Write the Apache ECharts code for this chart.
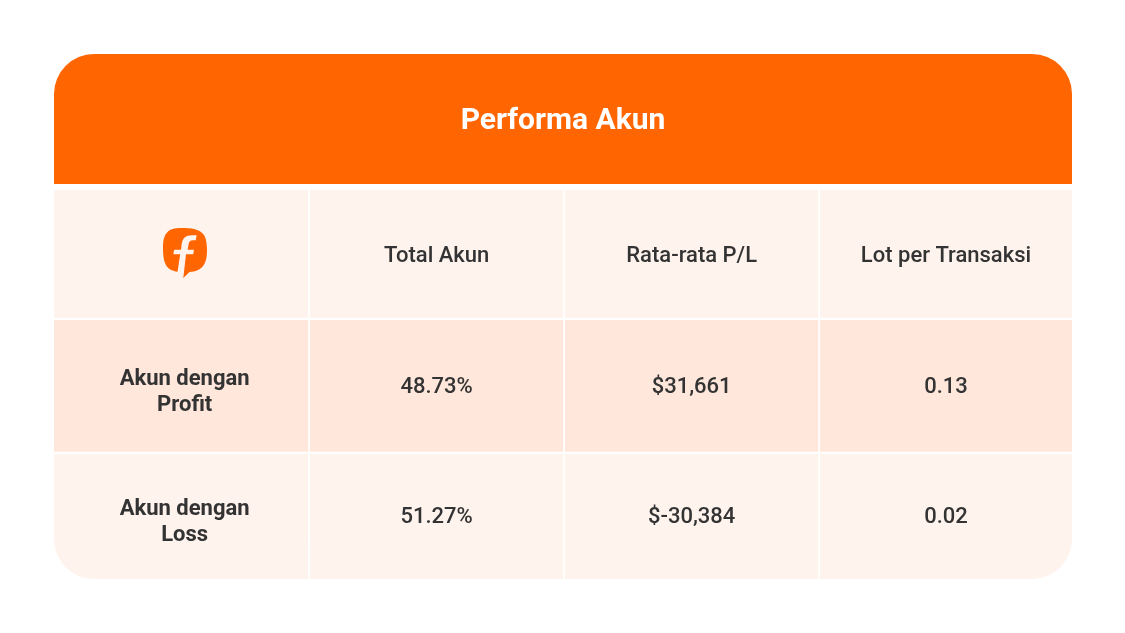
<!DOCTYPE html>
<html><head><meta charset="utf-8">
<style>html,body{margin:0;padding:0;background:#fff}#c{width:1125px;height:633px}</style>
<script src="https://cdn.jsdelivr.net/npm/echarts@6/dist/echarts.min.js"></script>
</head><body><div id="c"></div>
<script>
const chartTitle = 'Performa Akun';
const columnHeaders = ['', 'Total Akun', 'Rata-rata P/L', 'Lot per Transaksi'];
const profitRow = ['Akun dengan\nProfit', '48.73%', '$31,661', '0.13'];
const lossRow = ['Akun dengan\nLoss', '51.27%', '$-30,384', '0.02'];

const colEdges = [[54,308.3],[310,563.3],[565,818.3],[820,1072]];
const rowEdges = [[190,318],[320,451.7],[453.7,579]];
const labelY = [256,392,522];
const valueY = [256,387.5,517];
const rowFill = ['#FFF3EE','#FFE7DB','#FFF3EE'];
const ORANGE = '#FF6500', INK = '#333333', FONT = 'Roboto';
const LOGO_BUBBLE = 'M181 228 C168 228 163 233 163 248 C163 265 167 271 180 272 L183.3 278 L189.5 272 C202 271 207 265 207 250 C207 233 202 228 181 228 Z';
const LOGO_F = 'M183.3 278 L186 254.3 L193.2 254.3 L194 249.7 L187.6 249.7 L188.6 244 C189.2 241.3 190.5 240.3 193 240.3 L195.7 240.3 L196.7 235.3 L192 235.3 C185.5 235.3 182.5 238.5 181.7 244 L181 249.7 L174.2 249.7 L173.3 254.3 L180.2 254.3 L177.5 272 Z';

const cells = [];
[columnHeaders, profitRow, lossRow].forEach((row, r) =>
  row.forEach((text, c) => cells.push([c, r, text])));

function renderCell(params, api) {
  const c = api.value(0), r = api.value(1), text = cells[params.dataIndex][2];
  const [x0, x1] = colEdges[c], [y0, y1] = rowEdges[r];
  const lastRow = r === 2;
  const radius = lastRow && c === 0 ? [0,0,0,40] : lastRow && c === 3 ? [0,0,40,0] : 0;
  const bold = c === 0 && r > 0;
  const children = [{
    type: 'rect', shape: {x:x0, y:y0, width:x1-x0, height:y1-y0, r:radius},
    style: {fill: rowFill[r]}
  }];
  if (text) children.push({
    type: 'text',
    style: {
      x: (x0+x1)/2 + (c===0 ? 3.5 : 0), y: c===0 ? labelY[r] : valueY[r],
      text, align:'center', verticalAlign:'middle',
      font: (bold ? '700 ' : '500 ') + '22px ' + FONT,
      lineHeight: 26, fill: INK
    }
  });
  else children.push(
    {type:'path', shape:{pathData:LOGO_BUBBLE}, style:{fill:ORANGE}},
    {type:'path', shape:{pathData:LOGO_F}, style:{fill:rowFill[0]}}
  );
  return {type:'group', children};
}

const chart = echarts.init(document.getElementById('c'), null, {renderer:'canvas'});
chart.setOption({
  animation:false,
  backgroundColor:'#ffffff',
  grid:{left:0,right:0,top:0,bottom:0},
  xAxis:{type:'category',show:false,data:[0,1,2,3]},
  yAxis:{type:'category',show:false,inverse:true,data:[0,1,2]},
  series:[{type:'custom',coordinateSystem:'cartesian2d',renderItem:renderCell,
    data:cells.map(d=>[d[0],d[1]]),silent:true,clip:false}],
  graphic:[
    {type:'rect',z:10,shape:{x:54,y:54,width:1018,height:130,r:[40,40,0,0]},style:{fill:ORANGE}},
    {type:'text',z:11,style:{x:563,y:121,text:chartTitle,align:'center',verticalAlign:'middle',
      font:'700 30px '+FONT,fill:'#ffffff'}}
  ]
});
</script></body></html>
